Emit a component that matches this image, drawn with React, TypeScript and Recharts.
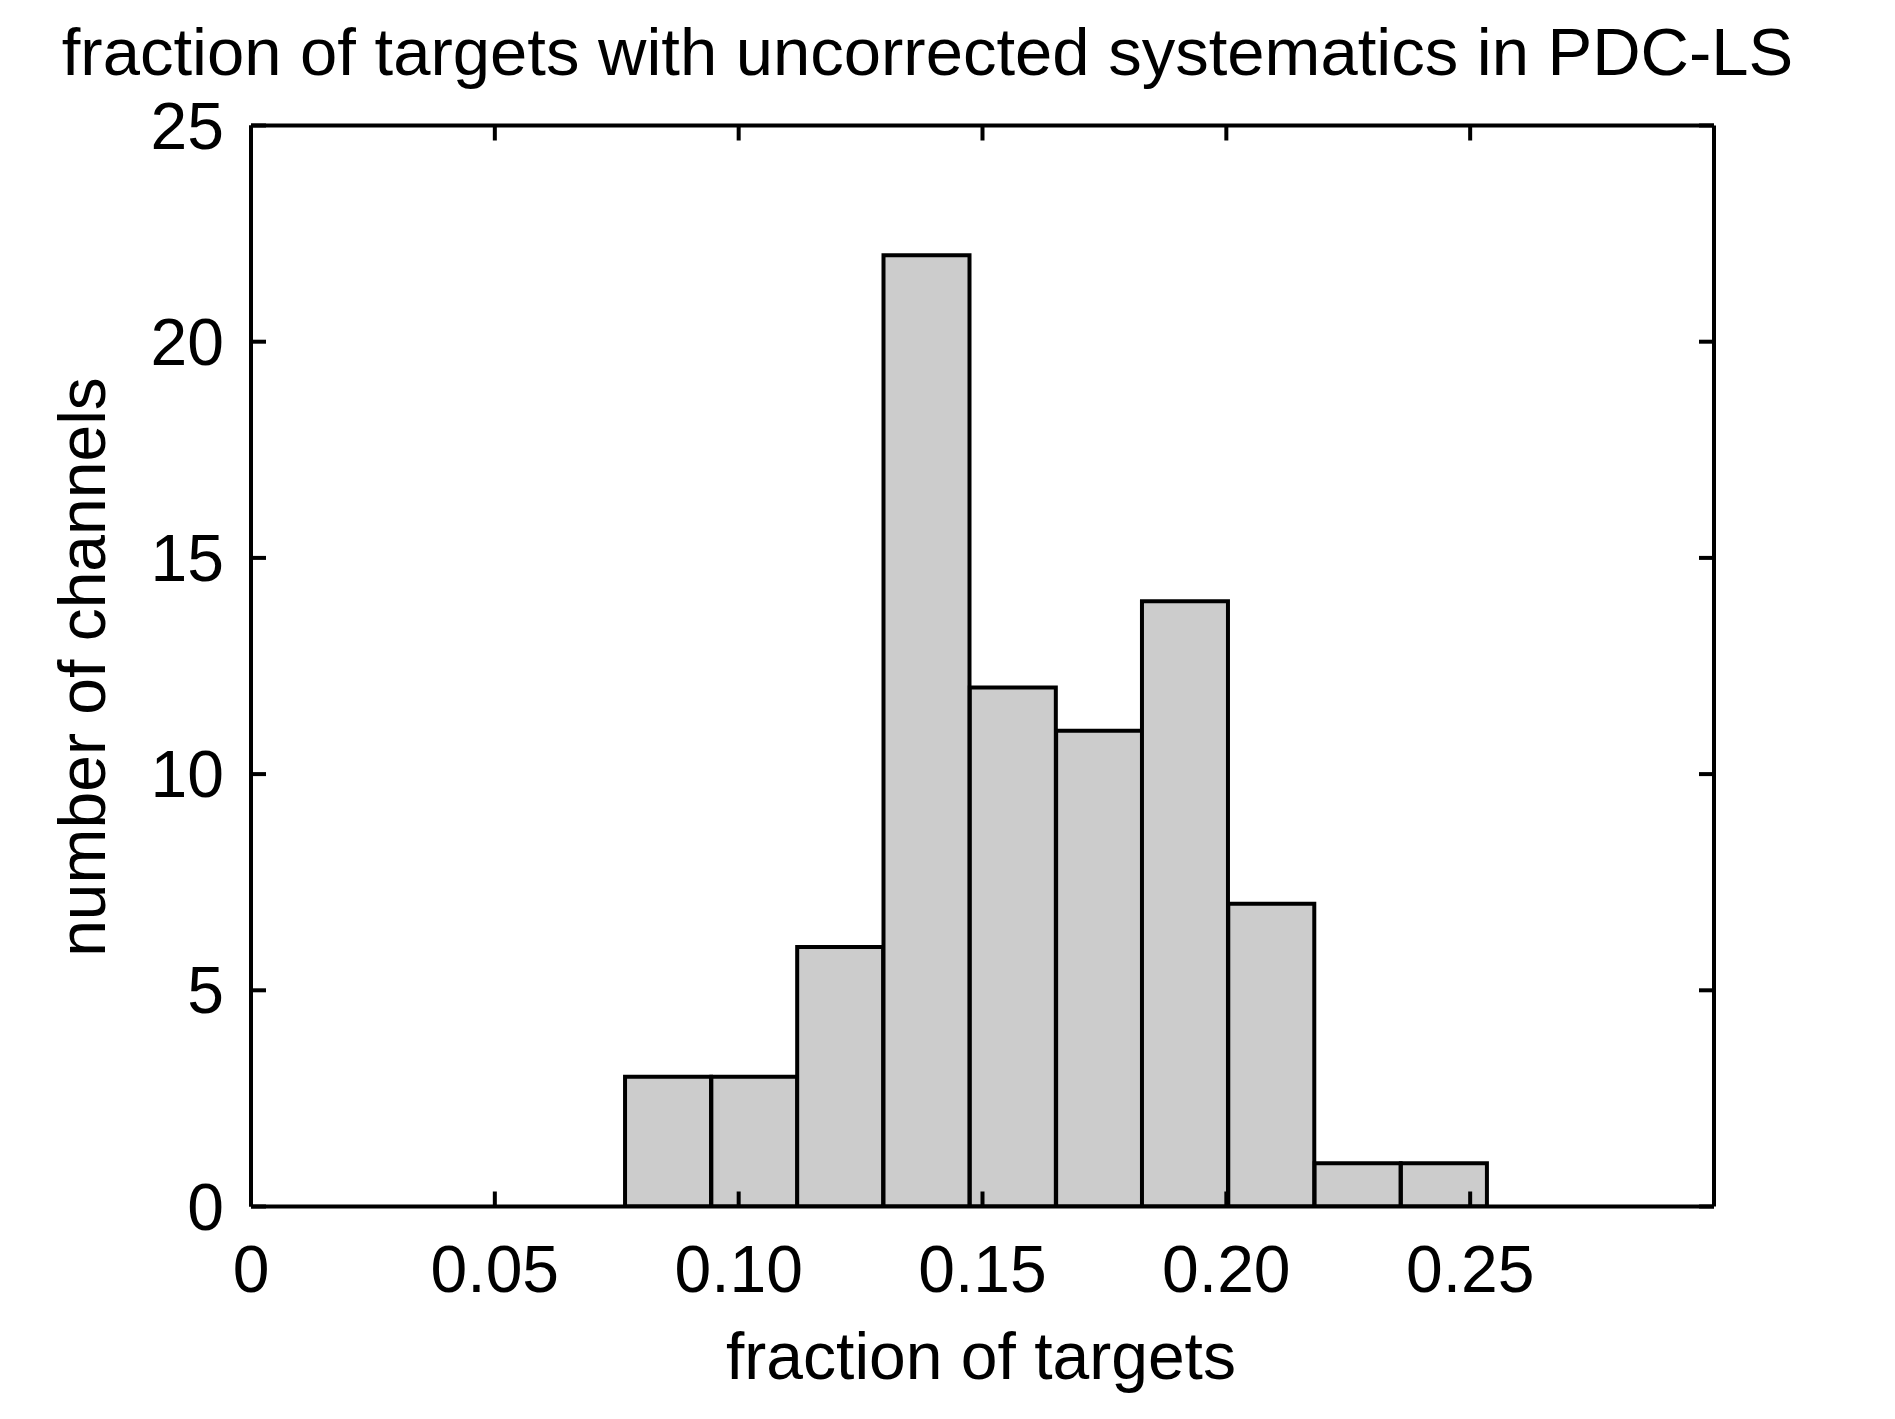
import React from 'react';
import { BarChart, Bar, XAxis, YAxis } from 'recharts';

const binCenters = [0.0855, 0.1032, 0.1208, 0.1385, 0.1562, 0.1739, 0.1915, 0.2092, 0.2269, 0.2446];
const channelCounts = [3, 3, 6, 22, 12, 11, 14, 7, 1, 1];
const xTicks = [0, 0.05, 0.1, 0.15, 0.2, 0.25];
const xTickLabels = ['0', '0.05', '0.10', '0.15', '0.20', '0.25'];
const yTicks = [0, 5, 10, 15, 20, 25];
const yTickLabels = ['0', '5', '10', '15', '20', '25'];

const data = binCenters.map((c, i) => ({ center: c, count: channelCounts[i] }));

const FONT = '"Liberation Sans", Arial, Helvetica, sans-serif';
const TICK_LEN = 15;
const LW = 4;

const labelFor = (vals: number[], labels: string[], v: number) => {
  const i = vals.findIndex((t) => Math.abs(t - v) < 1e-9);
  return i >= 0 ? labels[i] : String(v);
};

const BottomTick = (props: any) => {
  const { x, y, payload } = props;
  return (
    <g>
      <line x1={x} x2={x} y1={y} y2={y - TICK_LEN} stroke="#000" strokeWidth={LW} />
      <text x={x} y={y + 85} textAnchor="middle" fontSize={66} fontFamily={FONT} fill="#000">
        {labelFor(xTicks, xTickLabels, payload.value)}
      </text>
    </g>
  );
};

const TopTick = (props: any) => {
  const { x, y } = props;
  return <line x1={x} x2={x} y1={y} y2={y + TICK_LEN} stroke="#000" strokeWidth={LW} />;
};

const LeftTick = (props: any) => {
  const { x, y, payload } = props;
  return (
    <g>
      <line x1={x} x2={x + TICK_LEN} y1={y} y2={y} stroke="#000" strokeWidth={LW} />
      <text x={x - 27} y={y + 23} textAnchor="end" fontSize={66} fontFamily={FONT} fill="#000">
        {labelFor(yTicks, yTickLabels, payload.value)}
      </text>
    </g>
  );
};

const RightTick = (props: any) => {
  const { x, y } = props;
  return <line x1={x} x2={x - TICK_LEN} y1={y} y2={y} stroke="#000" strokeWidth={LW} />;
};

export default function App() {
  const axisLine = { stroke: '#000', strokeWidth: LW };
  return (
    <div style={{ position: 'absolute', left: 0, top: 0, width: 1895, height: 1419, background: '#fff' }}>
      <BarChart
        width={1895}
        height={1419}
        data={data}
        margin={{ top: 124.5, right: 180, bottom: 0, left: 0 }}
        barCategoryGap={0}
        barGap={0}
      >
        <XAxis
          xAxisId="b"
          dataKey="center"
          type="number"
          domain={[0, 0.3]}
          ticks={xTicks}
          orientation="bottom"
          height={212.5}
          tickSize={0}
          tickMargin={0}
          interval={0}
          stroke="#000"
          strokeWidth={LW}
          axisLine={axisLine}
          tickLine={false}
          tick={BottomTick}
          allowDataOverflow
        />
        <XAxis
          xAxisId="t"
          dataKey="center"
          type="number"
          domain={[0, 0.3]}
          ticks={xTicks}
          orientation="top"
          height={1}
          tickSize={0}
          tickMargin={0}
          interval={0}
          stroke="#000"
          strokeWidth={LW}
          axisLine={axisLine}
          tickLine={false}
          tick={TopTick}
          allowDataOverflow
        />
        <YAxis
          yAxisId="l"
          type="number"
          domain={[0, 25]}
          ticks={yTicks}
          orientation="left"
          width={251}
          tickSize={0}
          tickMargin={0}
          interval={0}
          stroke="#000"
          strokeWidth={LW}
          axisLine={axisLine}
          tickLine={false}
          tick={LeftTick}
          allowDataOverflow
        />
        <YAxis
          yAxisId="r"
          type="number"
          domain={[0, 25]}
          ticks={yTicks}
          orientation="right"
          width={1}
          tickSize={0}
          tickMargin={0}
          interval={0}
          stroke="#000"
          strokeWidth={LW}
          axisLine={axisLine}
          tickLine={false}
          tick={RightTick}
          allowDataOverflow
        />
        <Bar
          xAxisId="b"
          yAxisId="l"
          dataKey="count"
          fill="#cccccc"
          stroke="#000"
          strokeWidth={4}
          isAnimationActive={false}
        />
      </BarChart>
      <svg
        width={1895}
        height={1419}
        style={{ position: 'absolute', left: 0, top: 0, pointerEvents: 'none' }}
      >
        <text x={927.5} y={75} textAnchor="middle" fontSize={67} fontFamily={FONT} fill="#000">
          fraction of targets with uncorrected systematics in PDC-LS
        </text>
        <text x={981} y={1379} textAnchor="middle" fontSize={66} fontFamily={FONT} fill="#000">
          fraction of targets
        </text>
        <text
          transform="translate(105,667) rotate(-90)"
          textAnchor="middle"
          fontSize={66}
          fontFamily={FONT}
          fill="#000"
        >
          number of channels
        </text>
      </svg>
    </div>
  );
}
